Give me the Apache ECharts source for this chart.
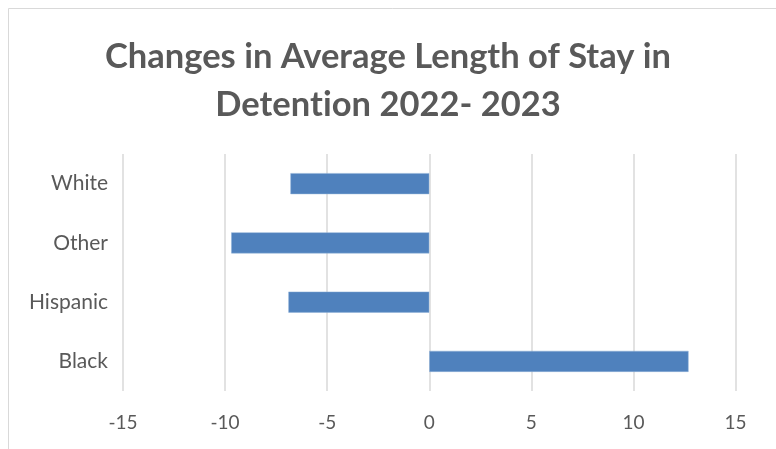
<!DOCTYPE html>
<html><head><meta charset="utf-8">
<script src="https://cdn.jsdelivr.net/npm/echarts@6/dist/echarts.min.js"></script>
<style>html,body{margin:0;padding:0;background:#fff}#c{width:776px;height:449px}</style>
</head><body><div id="c"></div>
<script>
var categories = ['Black', 'Hispanic', 'Other', 'White'];
var values = [12.7, -6.9, -9.7, -6.8];
var xTicks = { min: -15, max: 15, interval: 5 };
var titleText = 'Changes in Average Length of Stay in\nDeten{s|t}ion 2022- 2023';

var titleStyle = { fontFamily: 'Lato', fontWeight: 'bold', fontSize: 34.5, color: '#595959', lineHeight: 48 };
var chart = echarts.init(document.getElementById('c'));
chart.setOption({
  animation: false,
  backgroundColor: '#fff',
  graphic: [{
    type: 'polyline', silent: true,
    shape: { points: [[8.5, 460], [8.5, 8.5], [790, 8.5]] },
    style: { stroke: '#d9d9d9', lineWidth: 1, fill: null }
  }],
  title: {
    text: titleText, left: 'center', top: 28,
    textStyle: Object.assign({}, titleStyle, { rich: { s: titleStyle } })
  },
  grid: { left: 123, right: 40.5, top: 154, bottom: 58, containLabel: false },
  xAxis: {
    type: 'value', min: xTicks.min, max: xTicks.max, interval: xTicks.interval,
    axisLine: { show: false }, axisTick: { show: false },
    splitLine: { show: true, lineStyle: { color: '#d9d9d9', width: 1.5 } },
    axisLabel: { color: '#595959', fontSize: 19, fontFamily: 'Lato', margin: 22 }
  },
  yAxis: {
    type: 'category', data: categories,
    axisLine: { show: false }, axisTick: { show: false },
    axisLabel: { color: '#595959', fontSize: 21, fontFamily: 'Lato', margin: 15 }
  },
  series: [{
    type: 'bar', data: values, barWidth: 21,
    itemStyle: { color: '#4f81bd', borderColor: '#8fb0d8', borderWidth: 0.5 }
  }]
});
</script></body></html>
